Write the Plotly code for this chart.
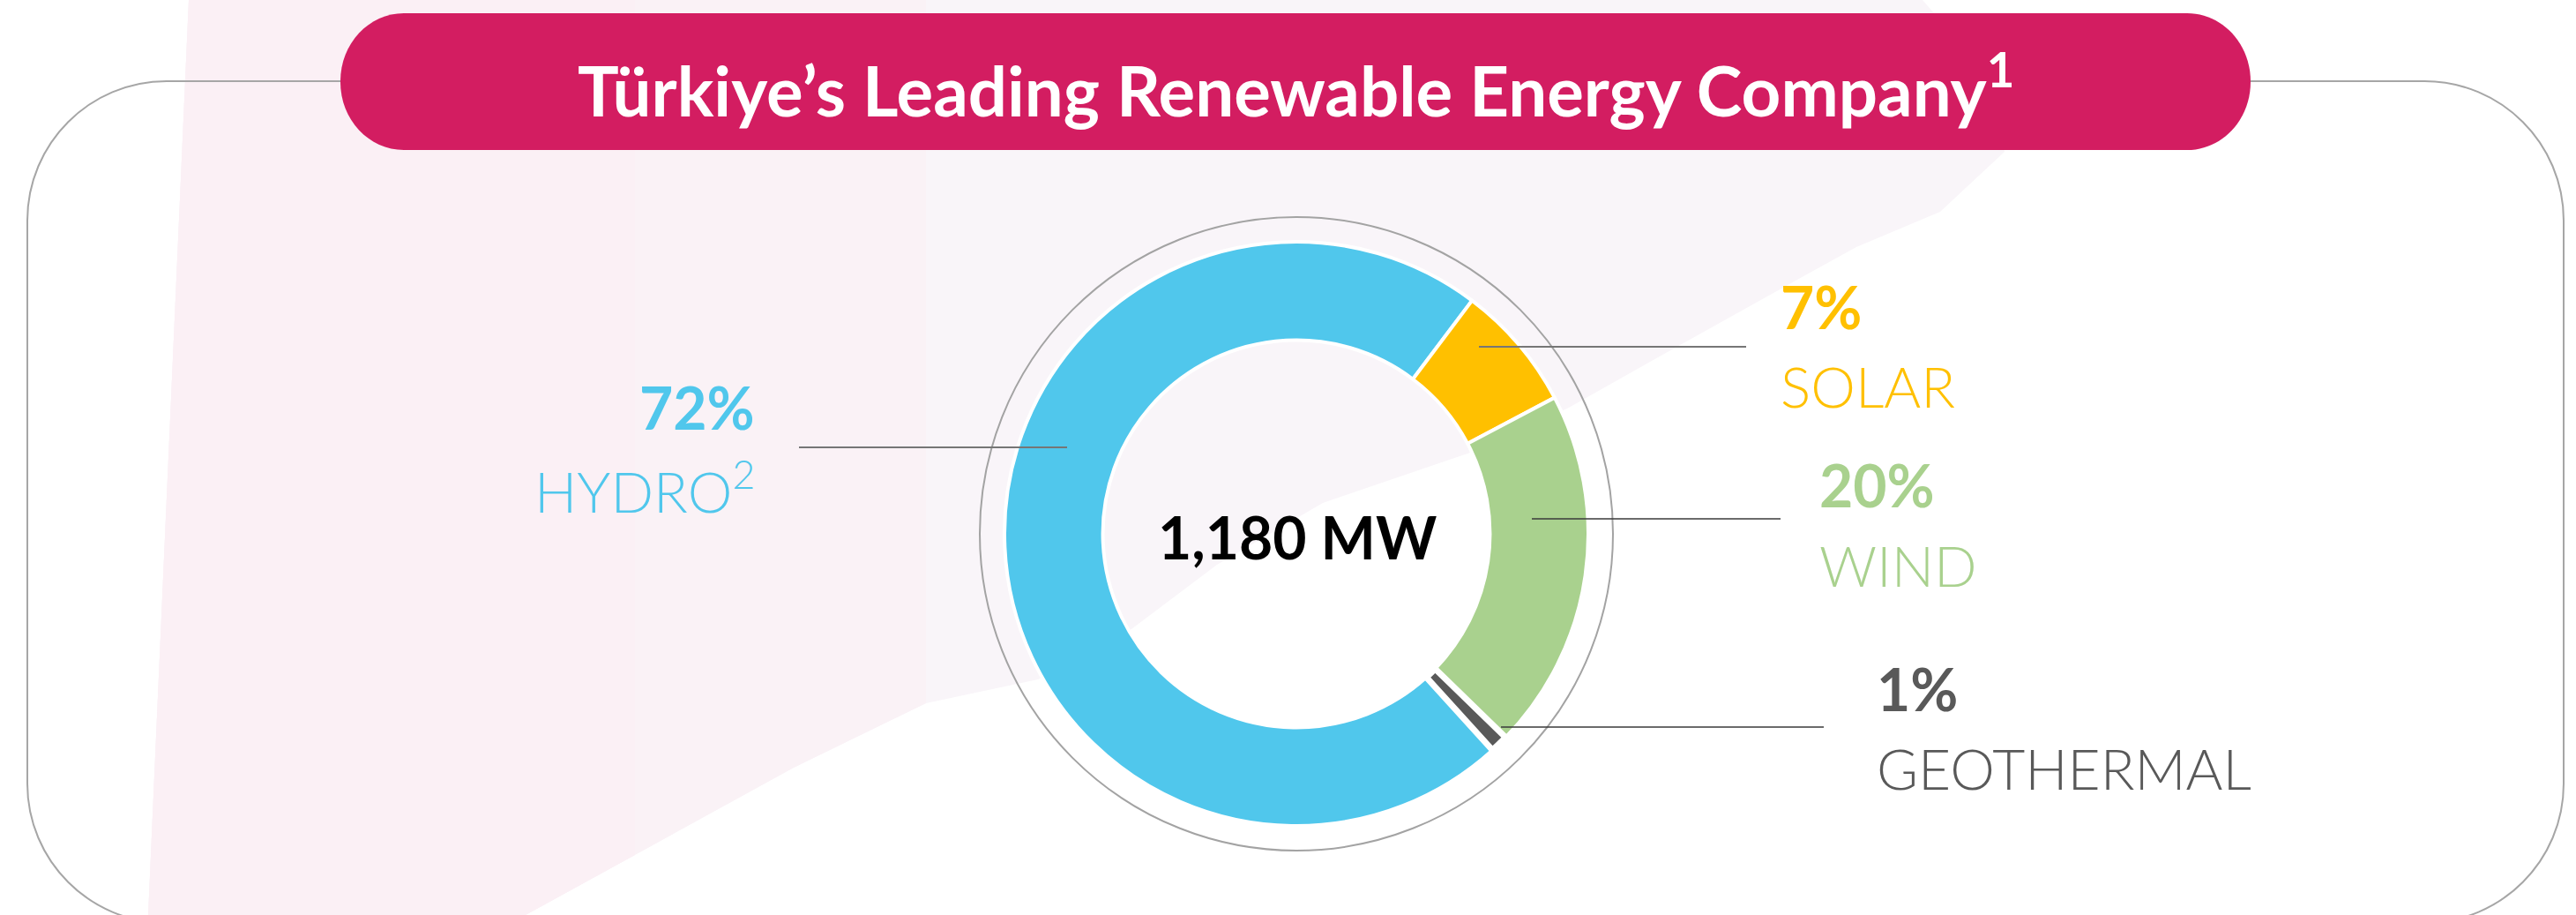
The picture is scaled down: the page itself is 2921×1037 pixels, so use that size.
import plotly.graph_objects as go

# ---------------- data ----------------
categories = ["HYDRO", "SOLAR", "WIND", "GEOTHERMAL"]
shares = [72, 7, 20, 1]  # % of installed capacity
label_suffix = ["<sup>2</sup>", "", "", ""]
slice_colors = ["#50C7EC", "#FFC000", "#A9D18E", "#595959"]
total_capacity = "1,180 MW"
title_text = "Türkiye’s Leading Renewable Energy Company<sup>1</sup>"

# ---------------- canvas helpers ----------------
W, H = 2921, 1037


def px(x):
    return x / W


def py(y):
    return 1 - y / H


FONT = "Lato"

fig = go.Figure()

# donut geometry (pixels)
cx, cy, R = 1470, 605, 331
fig.add_trace(go.Pie(
    labels=categories,
    values=shares,
    hole=0.663,
    sort=False,
    direction="clockwise",
    rotation=137.8,
    marker=dict(colors=slice_colors,
                line=dict(color="white", width=[4, 4, 4, 7])),
    textinfo="none",
    hoverinfo="label+percent",
    showlegend=False,
    domain=dict(x=[px(cx - R), px(cx + R)], y=[py(cy + R), py(cy - R)]),
))

shapes = []


def poly(pts):
    return "M " + " L ".join(f"{px(x):.5f},{py(y):.5f}" for x, y in pts) + " Z"


# pale decorative background swoosh (lavender part, then pinker left bands)
bg_pts = [(214, 0), (2180, 0), (2250, 80), (2273, 172), (2200, 240), (2105, 280),
          (2020, 327), (1880, 405), (1777, 463), (1667, 513), (1500, 570),
          (1380, 640), (1283, 713), (1177, 770), (1050, 797), (900, 870),
          (596, 1037), (168, 1037)]
shapes.append(dict(type="path", xref="paper", yref="paper", path=poly(bg_pts),
                   fillcolor="#F9F5F9", line=dict(width=0), layer="below"))
shapes.append(dict(type="path", xref="paper", yref="paper",
                   path=poly([(214, 0), (1050, 0), (1050, 797), (900, 870),
                              (596, 1037), (168, 1037)]),
                   fillcolor="#FAF2F6", line=dict(width=0), layer="below"))
shapes.append(dict(type="path", xref="paper", yref="paper",
                   path=poly([(214, 0), (720, 0), (720, 969), (596, 1037), (168, 1037)]),
                   fillcolor="#FBF0F5", line=dict(width=0), layer="below"))


def rrect(x0, y0, x1, y1, rx, ry):
    k = 0.5523
    p = []
    p.append(f"M {px(x0+rx)},{py(y0)}")
    p.append(f"L {px(x1-rx)},{py(y0)}")
    p.append(f"C {px(x1-rx+k*rx)},{py(y0)} {px(x1)},{py(y0+ry-k*ry)} {px(x1)},{py(y0+ry)}")
    p.append(f"L {px(x1)},{py(y1-ry)}")
    p.append(f"C {px(x1)},{py(y1-ry+k*ry)} {px(x1-rx+k*rx)},{py(y1)} {px(x1-rx)},{py(y1)}")
    p.append(f"L {px(x0+rx)},{py(y1)}")
    p.append(f"C {px(x0+rx-k*rx)},{py(y1)} {px(x0)},{py(y1-ry+k*ry)} {px(x0)},{py(y1-ry)}")
    p.append(f"L {px(x0)},{py(y0+ry)}")
    p.append(f"C {px(x0)},{py(y0+ry-k*ry)} {px(x0+rx-k*rx)},{py(y0)} {px(x0+rx)},{py(y0)} Z")
    return " ".join(p)


# outer frame
shapes.append(dict(type="path", xref="paper", yref="paper",
                   path=rrect(31, 92, 2907, 1046, 158, 158),
                   fillcolor="rgba(0,0,0,0)", line=dict(color="#A6A6A6", width=2),
                   layer="below"))
# title bar
shapes.append(dict(type="path", xref="paper", yref="paper",
                   path=rrect(386, 15, 2552, 170, 72, 77),
                   fillcolor="#D31D61", line=dict(width=0), layer="above"))

# thin circle around the donut
Rc = 359
shapes.append(dict(type="circle", xref="paper", yref="paper",
                   x0=px(cx - Rc), x1=px(cx + Rc), y0=py(cy + Rc), y1=py(cy - Rc),
                   line=dict(color="#A3A3A3", width=2), layer="above"))

# leader lines (x0, x1, y, colour, width)
leaders = [(906, 1210, 507, "#767676", 2.2), (1677, 1980, 393, "#767676", 2.2),
           (1737, 2019, 588, "#3A3A3A", 1.6), (1702, 2068, 824, "#3A3A3A", 1.6)]
for x0, x1, y, c, w in leaders:
    shapes.append(dict(type="line", xref="paper", yref="paper",
                       x0=px(x0), x1=px(x1), y0=py(y), y1=py(y),
                       line=dict(color=c, width=w), layer="above"))

annotations = []
# title
annotations.append(dict(x=px(1469), y=py(97), xref="paper", yref="paper", text=title_text,
                        showarrow=False, xanchor="center", yanchor="middle",
                        font=dict(family=FONT, size=78, color="white", weight="bold")))
# centre total
annotations.append(dict(x=px(1471), y=py(608), xref="paper", yref="paper",
                        text=f"<b>{total_capacity}</b>", showarrow=False,
                        xanchor="center", yanchor="middle",
                        font=dict(family=FONT, size=66, color="black")))

# slice labels: (x, anchor, pct_y, name_y)
label_pos = [(858, "right", 462, 552), (2017, "left", 347, 437),
             (2061, "left", 549, 640), (2126, "left", 780, 870)]
for cat, v, suf, col, (lx, anc, yp, yn) in zip(categories, shares, label_suffix,
                                                 slice_colors, label_pos):
    annotations.append(dict(x=px(lx), y=py(yp), xref="paper", yref="paper",
                            text=f"<b>{v}%</b>", showarrow=False, xanchor=anc,
                            yanchor="middle",
                            font=dict(family=FONT, size=66, color=col)))
    annotations.append(dict(x=px(lx), y=py(yn), xref="paper", yref="paper",
                            text=f"{cat}{suf}", showarrow=False, xanchor=anc,
                            yanchor="middle",
                            font=dict(family=FONT, size=64, color=col, weight=300)))

fig.update_layout(
    width=W, height=H,
    margin=dict(l=0, r=0, t=0, b=0),
    paper_bgcolor="white", plot_bgcolor="white",
    shapes=shapes, annotations=annotations,
)

fig.write_html("out.html", config={"displayModeBar": False},
               post_script="document.body.style.margin='0';document.body.style.overflow='hidden';")
